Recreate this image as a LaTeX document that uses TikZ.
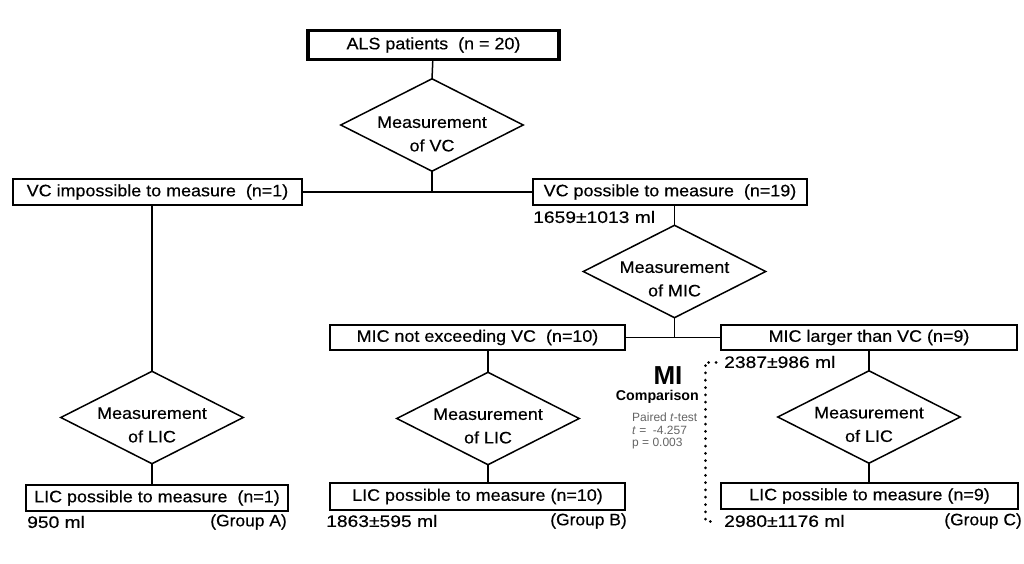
\documentclass[tikz,border=0pt]{standalone}
\usepackage{fontspec}
\setmainfont[FakeStretch=1.08,FakeBold=0.4]{Liberation Sans}
\newfontfamily\numfont[FakeStretch=1.16,FakeBold=0.4]{Liberation Sans}
\newfontfamily\grpfont[FakeStretch=1.05,FakeBold=0.4]{Liberation Sans}
\newfontfamily\statfont{Liberation Sans}
\usetikzlibrary{shapes.geometric}
\definecolor{statgray}{RGB}{100,100,100}
\begin{document}
\begin{tikzpicture}[x=1pt,y=-1pt,
  every node/.style={font=\fontsize{16.6}{19}\selectfont, inner sep=0pt},
  box/.style={draw, line width=1.5pt, minimum height=26pt},
  topbox/.style={draw, line width=3.5pt, minimum height=29pt, minimum width=251pt},
  dec/.style={minimum width=182pt, minimum height=92pt},
  dectext/.style={align=center, font=\fontsize{16.6}{23.5}\selectfont},
  conn/.style={line width=1.5pt},
  note/.style={anchor=west, font=\fontsize{16.6}{19}\numfont},
  grp/.style={anchor=east, font=\fontsize{16.6}{19}\grpfont},
  stat/.style={font=\statfont\fontsize{12}{13}\selectfont, text=statgray, anchor=west}
]
\useasboundingbox (0,0) rectangle (1024,564);

\node[topbox] (als) at (433.5,45) {ALS patients~ (n = 20)};
\node[dec] (dvc) at (432,125) {};
\node[dectext] (tvc) at (432,134) {Measurement\\of VC};
\node[box, minimum width=289pt] (vcno) at (157.5,192) {VC impossible to measure~ (n=1)};
\node[box, minimum width=274pt] (vcyes) at (670,192) {VC possible to measure~ (n=19)};
\node[note] (vcval) at (533,217) {1659±1013 ml};
\node[dec] (dmic) at (674.5,271.5) {};
\node[dectext] (tmic) at (674.5,279) {Measurement\\of MIC};
\node[box, minimum width=295pt, minimum height=25pt] (micno) at (477.5,337.5) {MIC not exceeding VC~ (n=10)};
\node[box, minimum width=296pt, minimum height=25pt] (micyes) at (869,337.5) {MIC larger than VC (n=9)};
\node[note] (micval) at (724,362) {2387±986 ml};

\node[dec] (dlica) at (152,417.5) {};
\node[dectext] (tlica) at (152,425) {Measurement\\of LIC};
\node[dec] (dlicb) at (488,418.5) {};
\node[dectext] (tlicb) at (488,426) {Measurement\\of LIC};
\node[dec] (dlicc) at (869,417) {};
\node[dectext] (tlicc) at (869,424.5) {Measurement\\of LIC};

\foreach \d in {dvc,dmic,dlica,dlicb,dlicc}
  \draw[line width=1.5pt, line join=miter] (\d.north) -- (\d.east) -- (\d.south) -- (\d.west) -- cycle;

\node[box, minimum width=262pt] (lica) at (157,498) {LIC possible to measure~ (n=1)};
\node[box, minimum width=295pt, minimum height=27pt] (licb) at (477.5,496.5) {LIC possible to measure (n=10)};
\node[box, minimum width=297pt] (licc) at (869.5,496) {LIC possible to measure (n=9)};

\node[note] (vala) at (27,522) {950 ml};
\node[grp] (grpa) at (287,522) {(Group A)};
\node[note] (valb) at (326,521) {1863±595 ml};
\node[grp] (grpb) at (627,521) {(Group B)};
\node[note] (valc) at (724,521) {2980±1176 ml};
\node[grp] (grpc) at (1022,521) {(Group C)};

% comparison
\node[font=\statfont\bfseries\fontsize{26}{28}\selectfont] (mi) at (668,376) {MI};
\node[font=\statfont\bfseries\fontsize{14.2}{15}\selectfont, anchor=east] (cmp) at (699,397) {Comparison};
\node[stat] (st1) at (632,417) {Paired \textit{t}-test};
\node[stat] (st2) at (632,430.5) {\textit{t} =~ -4.257};
\node[stat] (st3) at (632,444) {p = 0.003};

% connectors
\draw[conn] (als) -- (dvc.north);
\coordinate (j1) at (dvc.south |- vcno.east);
\draw[conn] (dvc.south) -- (j1);
\draw[conn] (vcno.east) -- (vcyes.west);
\draw[conn] (vcno.south -| dlica.north) -- (dlica.north);
\draw[conn] (vcyes.south -| dmic.north) -- (dmic.north);
\coordinate (j2) at (dmic.south |- micno.east);
\draw[conn] (dmic.south) -- (j2);
\draw[conn] (micno.east) -- (micyes.west);
\draw[conn] (micno.south -| dlicb.north) -- (dlicb.north);
\draw[conn] (micyes.south -| dlicc.north) -- (dlicc.north);
\draw[conn] (dlica.south) -- (lica.north -| dlica.south);
\draw[conn] (dlicb.south) -- (licb.north -| dlicb.south);
\draw[conn] (dlicc.south) -- (licc.north -| dlicc.south);

% dotted bracket
\coordinate (bt) at (716,362);
\coordinate (bb) at (716,521);
\draw[line width=3pt, line cap=round, dash pattern=on 0.01pt off 7.3pt]
  (bt) -- (705,362) -- (705,521) -- (bb);
\end{tikzpicture}
\end{document}
